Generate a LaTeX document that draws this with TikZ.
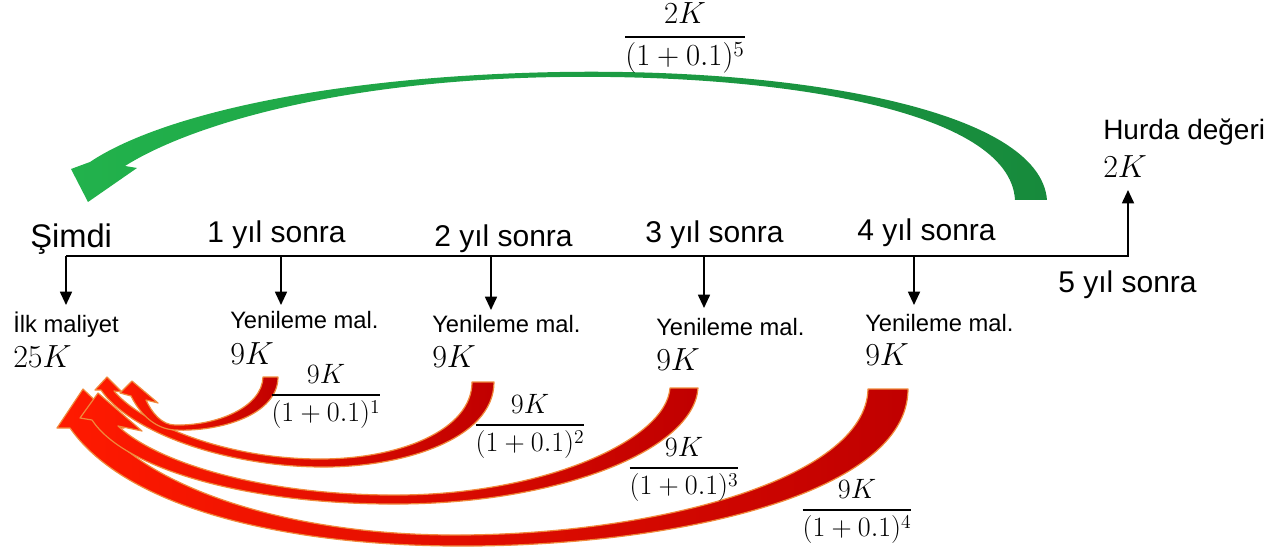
\RequirePackage{fix-cm}
\documentclass[tikz,border=0pt]{standalone}
\usepackage[no-math]{fontspec}
\setmainfont{Liberation Sans}
\usepackage{amsmath}
\usetikzlibrary{arrows.meta}
\definecolor{gA}{HTML}{22B24C}
\definecolor{gB}{HTML}{178A3C}
\definecolor{rA}{HTML}{FF1A00}
\definecolor{rB}{HTML}{C00000}
\definecolor{rE}{HTML}{F08A3C}
\tikzset{
  lbl/.style={inner sep=0pt, anchor=base west, font=\fontsize{22.5}{27}\selectfont},
  sublbl/.style={inner sep=0pt, anchor=base west, font=\fontsize{17.8}{21}\selectfont},
  val/.style={inner sep=0pt, anchor=base west, font=\fontsize{24}{28}\selectfont},
  fracl/.style={inner sep=0pt, font=\fontsize{21}{25}\selectfont},
  tickarr/.style={-{Triangle[length=10pt,width=9pt]}, line width=1.3pt},
  greenarrow/.style={left color=gA, right color=gB, draw=none},
  redarrow/.style={left color=rA, right color=rB, draw=rE, line width=0.9pt, line join=round},
}
\begin{document}
\begin{tikzpicture}[x=0.75pt,y=-0.75pt]
\useasboundingbox (0,0) rectangle (1278,552);

% ---- timeline ----
\coordinate (t0) at (66,256);
\coordinate (t1) at (281,256);
\coordinate (t2) at (491,256);
\coordinate (t3) at (704,256);
\coordinate (t4) at (914,256);
\coordinate (t5) at (1128,256);
\coordinate (e0) at (66,305);
\coordinate (e1) at (281,305);
\coordinate (e2) at (491,310);
\coordinate (e3) at (704,308);
\coordinate (e4) at (914,305);
\coordinate (e5) at (1128,190);

\draw[tickarr] (t0) -- (t5) -- (e5);
\draw[tickarr] (t0) -- (e0);
\draw[tickarr] (t1) -- (e1);
\draw[tickarr] (t2) -- (e2);
\draw[tickarr] (t3) -- (e3);
\draw[tickarr] (t4) -- (e4);

% ---- time labels ----
\node[lbl, font=\fontsize{24.5}{29}\selectfont] (now) at (30,248) {Şimdi};
\node[lbl] (y1) at (207,243) {1 yıl sonra};
\node[lbl] (y2) at (434,247) {2 yıl sonra};
\node[lbl] (y3) at (645,243) {3 yıl sonra};
\node[lbl] (y4) at (857,241) {4 yıl sonra};
\node[lbl] (y5) at (1058,293) {5 yıl sonra};
\node[lbl, font=\fontsize{21}{25}\selectfont] (hurda) at (1103,140) {Hurda değeri};
\node[val] (v5) at (1103,178) {$2K$};

% ---- cost labels ----
\node[sublbl] (c0) at (13,333) {İlk maliyet};
\node[val] (v0) at (13,368) {$25K$};
\node[sublbl] (c1) at (230,329) {Yenileme mal.};
\node[val] (v1) at (230,364) {$9K$};
\node[sublbl] (c2) at (432,333) {Yenileme mal.};
\node[val] (v2) at (432,367) {$9K$};
\node[sublbl] (c3) at (656,335) {Yenileme mal.};
\node[val] (v3) at (656,370) {$9K$};
\node[sublbl] (c4) at (865,331) {Yenileme mal.};
\node[val] (v4) at (865,365) {$9K$};

% ---- green arrow ----
\path[greenarrow] (1047,200) .. controls (1040,110) and (800,68) .. (560,72)
  .. controls (330,76) and (160,115) .. (90,162) -- (71,169) -- (88,202) -- (137,168) -- (125,166)
  .. controls (190,125) and (340,80) .. (560,77)
  .. controls (780,74) and (1010,110) .. (1015,200) -- cycle;

% ---- red arrows ----
\path[redarrow] (868,389) -- (908,389)
  .. controls (908,495) and (670,548) .. (450,546)
  .. controls (260,544) and (120,500) .. (70,428)
  -- (57,428) -- (83,389) -- (124,428) -- (104,428)
  .. controls (150,485) and (280,534) .. (450,535)
  .. controls (650,536) and (866,480) .. (868,389) -- cycle;

\path[redarrow] (670,388) -- (698,388)
  .. controls (694,450) and (560,503) .. (400,504)
  .. controls (250,505) and (125,470) .. (92,420)
  -- (80,418) -- (98,393) -- (142,431) -- (118,426)
  .. controls (160,465) and (270,496) .. (400,495)
  .. controls (545,494) and (666,440) .. (670,388) -- cycle;

\path[redarrow] (472,382) -- (494,382)
  .. controls (494,440) and (400,468) .. (320,467)
  .. controls (220,466) and (128,430) .. (101,390)
  -- (95,390) -- (107,377) -- (122,392) -- (114,391)
  .. controls (142,424) and (225,459) .. (320,459)
  .. controls (400,459) and (472,430) .. (472,382) -- cycle;

\path[redarrow] (263,377) -- (278,377)
  .. controls (278,415) and (220,432) .. (175,430)
  .. controls (155,429) and (140,414) .. (131,396)
  -- (120,393) -- (132,381) -- (158,403) -- (146,400)
  .. controls (152,413) and (162,425) .. (175,425)
  .. controls (215,426) and (262,408) .. (263,377) -- cycle;

% ---- fractions ----
\node[fracl] (f1) at (326,396) {$\dfrac{9K}{(1+0.1)^1}$};
\node[fracl] (f2) at (530,426) {$\dfrac{9K}{(1+0.1)^2}$};
\node[fracl] (f3) at (684,469) {$\dfrac{9K}{(1+0.1)^3}$};
\node[fracl] (f4) at (857,511) {$\dfrac{9K}{(1+0.1)^4}$};
\node[fracl, font=\fontsize{23}{27}\selectfont] (f5) at (685,38) {$\dfrac{2K}{(1+0.1)^5}$};
\end{tikzpicture}
\end{document}
